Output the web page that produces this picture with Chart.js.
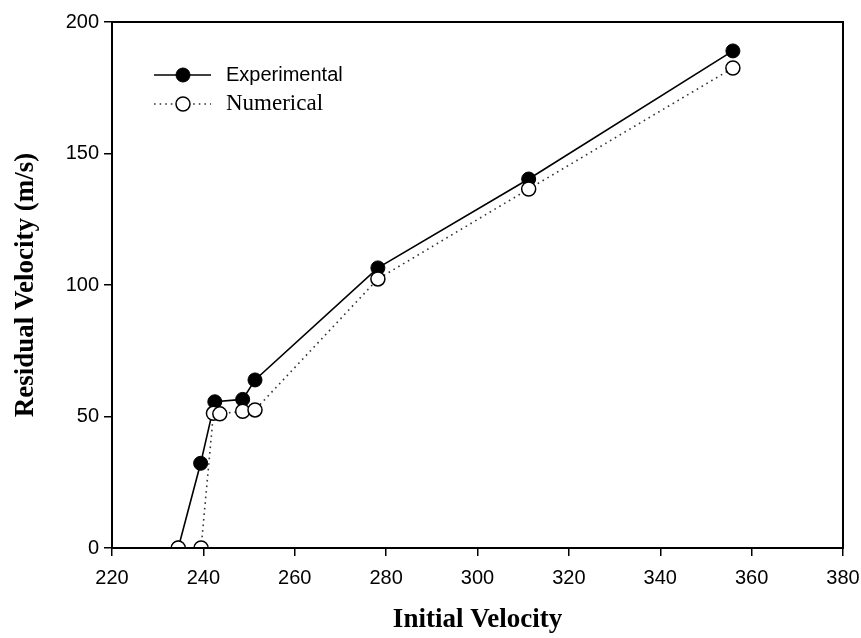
<!DOCTYPE html>
<html>
<head>
<meta charset="utf-8">
<script src="https://cdn.jsdelivr.net/npm/chart.js@4"></script>
<style>
  html, body { margin: 0; padding: 0; background: #fff; }
  #wrap { width: 861px; height: 638px; }
</style>
</head>
<body>
<div id="wrap"><canvas id="chart" width="861" height="638"></canvas></div>
<script>
// Data
const expX = [234.5, 239.4, 242.5, 248.6, 251.3, 278.2, 311.2, 355.9];
const expY = [0, 32.2, 55.6, 56.5, 63.9, 106.5, 140.3, 189.0];
const numX = [234.5, 239.5, 242.2, 243.6, 248.6, 251.3, 278.2, 311.2, 355.9];
const numY = [0, 0, 51.2, 51.0, 52.0, 52.5, 102.3, 136.5, 182.5];

const xTicks = [220, 240, 260, 280, 300, 320, 340, 360, 380];
const yTicks = [0, 50, 100, 150, 200];

const toPoints = (xs, ys) => xs.map((x, i) => ({ x: x, y: ys[i] }));

// frame around the plot + legend inside it
const framePlugin = {
  id: "frame",
  afterDatasetsDraw(chart) {
    const { ctx, chartArea: a } = chart;
    ctx.save();
    ctx.strokeStyle = "#000";
    ctx.lineWidth = 2;
    ctx.strokeRect(a.left, a.top, a.right - a.left, a.bottom - a.top);

    // legend
    const rows = [
      { y: 75, ds: chart.data.datasets[1], font: "20px 'Liberation Sans', Arial, sans-serif" },
      { y: 104, ds: chart.data.datasets[0], font: "23px 'Liberation Serif', 'Times New Roman', serif" }
    ];
    rows.forEach(r => {
      ctx.beginPath();
      ctx.setLineDash(r.ds.borderDash || []);
      ctx.lineWidth = r.ds.borderWidth;
      ctx.strokeStyle = r.ds.borderColor;
      ctx.moveTo(154, r.y);
      ctx.lineTo(211, r.y);
      ctx.stroke();
      ctx.setLineDash([]);
      ctx.beginPath();
      ctx.arc(183, r.y, r.ds.pointRadius, 0, Math.PI * 2);
      ctx.fillStyle = r.ds.pointBackgroundColor;
      ctx.fill();
      ctx.lineWidth = r.ds.pointBorderWidth;
      ctx.strokeStyle = r.ds.pointBorderColor;
      ctx.stroke();
      ctx.fillStyle = "#000";
      ctx.font = r.font;
      ctx.textBaseline = "middle";
      ctx.fillText(r.ds.label, 226, r.y);
    });
    ctx.restore();
  }
};

new Chart(document.getElementById("chart"), {
  type: "scatter",
  data: {
    datasets: [
      {
        label: "Numerical",
        data: toPoints(numX, numY),
        showLine: true,
        borderColor: "#333",
        borderWidth: 1.6,
        borderDash: [1.6, 4],
        pointRadius: 7,
        pointBackgroundColor: "#fff",
        pointBorderColor: "#000",
        pointBorderWidth: 1.5,
        order: 0
      },
      {
        label: "Experimental",
        data: toPoints(expX, expY),
        showLine: true,
        borderColor: "#000",
        borderWidth: 1.6,
        pointRadius: 7,
        pointBackgroundColor: "#000",
        pointBorderColor: "#000",
        pointBorderWidth: 1,
        order: 1
      }
    ]
  },
  options: {
    responsive: false,
    animation: false,
    layout: { padding: { top: 22, right: 0, left: 0, bottom: 0 } },
    plugins: { legend: { display: false }, tooltip: { enabled: false } },
    scales: {
      x: {
        min: 220, max: 380,
        afterFit: s => { s.height = 90; s.paddingRight = 18; },
        afterBuildTicks: s => { s.ticks = xTicks.map(v => ({ value: v })); },
        border: { display: true, color: "#000", width: 2 },
        grid: { drawOnChartArea: false, color: "#000", tickLength: 8, lineWidth: 1.5 },
        ticks: { color: "#000", padding: 10, font: { family: "'Liberation Sans', Arial, sans-serif", size: 20 } },
        title: {
          display: true, text: "Initial Velocity", color: "#000",
          padding: { top: 14, bottom: 2 },
          font: { family: "'Liberation Serif', 'Times New Roman', serif", size: 27, weight: "bold" }
        }
      },
      y: {
        min: 0, max: 200,
        afterFit: s => { s.width = 112; },
        afterBuildTicks: s => { s.ticks = yTicks.map(v => ({ value: v })); },
        border: { display: true, color: "#000", width: 2 },
        grid: { drawOnChartArea: false, color: "#000", tickLength: 8, lineWidth: 1.5 },
        ticks: { color: "#000", padding: 5, font: { family: "'Liberation Sans', Arial, sans-serif", size: 20 } },
        title: {
          display: true, text: "Residual Velocity (m/s)", color: "#000",
          padding: { top: 10, bottom: 10 },
          font: { family: "'Liberation Serif', 'Times New Roman', serif", size: 27, weight: "bold" }
        }
      }
    }
  },
  plugins: [framePlugin]
});
</script>
</body>
</html>
